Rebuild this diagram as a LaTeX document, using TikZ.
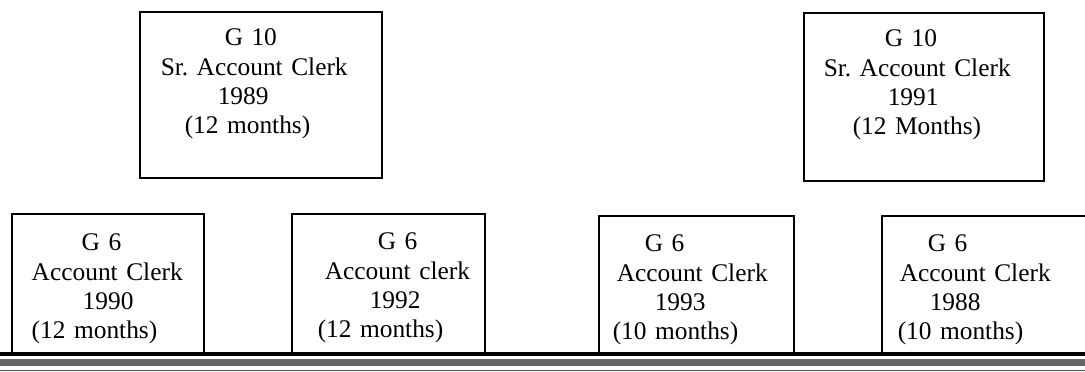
\documentclass[tikz,border=0pt]{standalone}
\usepackage{fontspec}
\setmainfont{Liberation Serif}

\begin{document}
\begin{tikzpicture}
	[
		x=1pt, y=-1pt,
		post/.style={draw, line width=1.5pt, anchor=north west, inner xsep=0pt, inner ysep=0pt, align=left, font=\fontsize{25.4pt}{29.3pt}\selectfont\frenchspacing},
		junior/.style={post, text height=37pt, text depth=102pt},
		senior/.style={post, text height=34pt}
	]

	\def\lead#1{\hspace*{#1pt}}

	\useasboundingbox (0,0) rectangle (1085,372);
	\clip (0,0) rectangle (1085,372);

		\node
		[senior, text width=242pt, text depth=132pt]
		(sr89) at (139,11)
		{\lead{85}G 10\\\lead{21}Sr. Account Clerk\\\lead{78}1989\\\lead{45}(12 months)};

		\node
		[senior, text width=240pt, text depth=134pt]
		(sr91) at (803,12)
		{\lead{81}G 10\\\lead{20}Sr. Account Clerk\\\lead{84}1991\\\lead{49}(12 Months)};

		\node
		[junior, text width=192pt]
		(ac90) at (11,213)
		{\lead{70}G 6\\\lead{20}Account Clerk\\\lead{71}1990\\\lead{20}(12 months)};

		\node
		[junior, text width=193pt, text height=36pt, text depth=103pt]
		(ac92) at (291,213)
		{\lead{86}G 6\\\lead{33}Account clerk\\\lead{78}1992\\\lead{26}(12 months)};

		\node
		[junior, text width=195pt, text height=36pt, text depth=101pt]
		(ac93) at (598,215)
		{\lead{46}G 6\\\lead{18}Account Clerk\\\lead{56}1993\\\lead{14}(10 months)};

		\node
		[junior, text width=209pt, text height=36pt, text depth=101pt]
		(ac88) at (881,215)
		{\lead{46}G 6\\\lead{18}Account Clerk\\\lead{48}1988\\\lead{16}(10 months)};

	\fill[black] (0,352) rectangle (1085,356);
	\fill[black!60] (0,359) rectangle (1085,366);
	\draw[black!70, line width=1pt] (0,370.5) -- (1085,370.5);

\end{tikzpicture}
\end{document}
